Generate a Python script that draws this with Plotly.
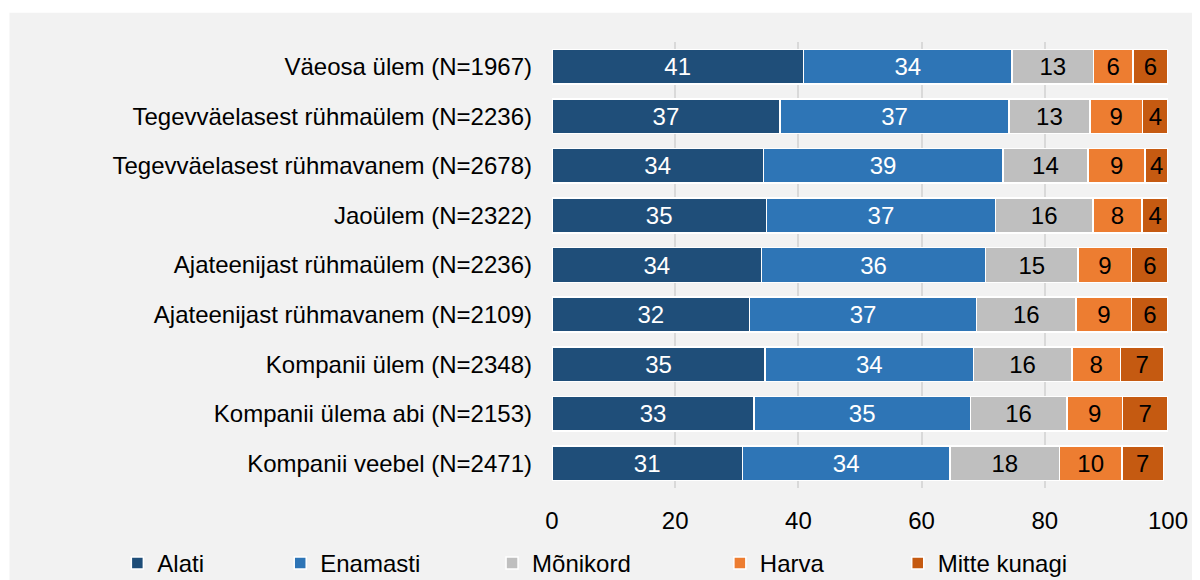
import plotly.graph_objects as go

categories = [
    "Väeosa ülem (N=1967)",
    "Tegevväelasest rühmaülem (N=2236)",
    "Tegevväelasest rühmavanem (N=2678)",
    "Jaoülem (N=2322)",
    "Ajateenijast rühmaülem (N=2236)",
    "Ajateenijast rühmavanem (N=2109)",
    "Kompanii ülem (N=2348)",
    "Kompanii ülema abi (N=2153)",
    "Kompanii veebel (N=2471)",
]
alati = [40.8, 37.0, 34.3, 34.8, 34.0, 32.1, 34.6, 32.8, 30.9]
enamasti = [33.9, 37.2, 38.9, 37.2, 36.4, 36.8, 33.8, 35.1, 33.7]
monikord = [13.2, 13.1, 13.8, 15.8, 15.0, 16.2, 16.0, 15.7, 17.8]
harva = [6.4, 8.6, 9.3, 8.0, 8.7, 9.0, 7.9, 9.0, 10.1]
mitte_kunagi = [5.7, 4.1, 3.7, 4.2, 5.9, 5.9, 7.0, 7.4, 6.8]

series_names = ["Alati", "Enamasti", "Mõnikord", "Harva", "Mitte kunagi"]
series_values = [alati, enamasti, monikord, harva, mitte_kunagi]
colors = ["#1f4e79", "#2e75b6", "#bfbfbf", "#ed7d31", "#c55a11"]
text_colors = ["white", "white", "black", "black", "black"]
tick_vals = [0, 20, 40, 60, 80, 100]

FONT = "Liberation Sans, Arial, sans-serif"
FS = 24

W, H = 1192, 572  # page body has an 8px margin
L, R, T, B = 544, 31.5, 34.25, 92.25
PW = W - L - R
PH = H - T - B

# legend item left positions (px, figure coords)
legend_x_px = [109, 272, 484, 712, 890]
legend_y_px = 555

fig = go.Figure()
for i, (name, vals) in enumerate(zip(series_names, series_values)):
    lg = "legend" if i == 0 else f"legend{i+1}"
    fig.add_trace(go.Bar(
        y=categories, x=vals, name=name, orientation="h",
        marker=dict(color=colors[i], line=dict(color="white", width=1.5)),
        texttemplate="%{x:.0f}", textposition="inside", insidetextanchor="middle",
        textangle=0, textfont=dict(family=FONT, size=FS, color=text_colors[i]),
        legend=lg, hoverinfo="skip", showlegend=True,
    ))

layout_legends = {}
for i in range(5):
    key = "legend" if i == 0 else f"legend{i+1}"
    layout_legends[key] = dict(
        x=(legend_x_px[i] - L) / PW, y=(H - B - legend_y_px) / PH,
        xanchor="left", yanchor="middle",
        bgcolor="rgba(0,0,0,0)", borderwidth=0,
        font=dict(family=FONT, size=FS, color="black"),
        itemwidth=30, visible=True,
    )

fig.update_layout(
    width=W, height=H, showlegend=True,
    margin=dict(l=L, r=R, t=T, b=B, autoexpand=False),
    paper_bgcolor="white", plot_bgcolor="rgba(0,0,0,0)",
    barmode="stack", bargap=0.3,
    font=dict(family=FONT, size=FS, color="black"),
    uniformtext=dict(minsize=FS, mode="show"),
    xaxis=dict(
        range=[0, 100], tickvals=tick_vals, showgrid=True, gridcolor="#d9d9d9",
        gridwidth=1.5, zeroline=False, showline=False, ticks="",
        ticklabelstandoff=16, tickfont=dict(family=FONT, size=FS, color="black"),
        automargin=False, tickangle=0,
    ),
    yaxis=dict(
        autorange="reversed", showgrid=False, ticks="", ticklabelstandoff=19,
        tickfont=dict(family=FONT, size=FS, color="black"), automargin=False,
    ),
    shapes=[dict(
        type="rect", xref="paper", yref="paper",
        x0=(1 - L) / PW, x1=1.2, y0=-0.5, y1=(H - B - 5) / PH,
        fillcolor="#f2f2f2", line=dict(width=0), layer="below",
    )],
    **layout_legends,
)

fig.write_html("out.html")
